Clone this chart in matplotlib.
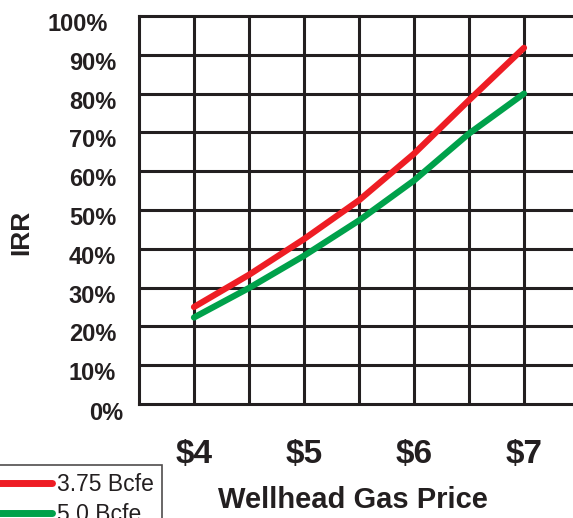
import matplotlib
matplotlib.use("Agg")
from matplotlib import pyplot as plt
from matplotlib.transforms import ScaledTranslation

# IRR at each wellhead gas price, sampled every $0.50
prices = [4.0, 4.5, 5.0, 5.5, 6.0, 6.5, 7.0]
irr_375 = [25.0, 33.3, 42.5, 52.5, 64.5, 78.3, 91.8]
irr_50 = [22.3, 29.9, 38.2, 47.3, 57.6, 69.7, 80.0]
series_labels = ['3.75 Bcfe', '5.0 Bcfe']
price_ticks = [4, 5, 6, 7]
price_labels = ['$4', '$5', '$6', '$7']
irr_ticks = list(range(0, 101, 10))
irr_labels = [str(v) + '%' for v in irr_ticks]

ink = '#231f20'
red = '#ee1d24'
green = '#00a14b'

plt.rcParams['font.family'] = ['Liberation Sans', 'DejaVu Sans']

fig = plt.figure(figsize=(5.73, 5.18), dpi=100)
W, H = 573, 518
# axes runs a little past the right edge of the figure on purpose
ax = fig.add_axes([139 / W, 114 / H, 440 / W, 388 / H])

ax.plot(prices, irr_375, color=red, lw=4.5, solid_capstyle='round', label=series_labels[0], zorder=3)
ax.plot(prices, irr_50, color=green, lw=4.5, solid_capstyle='round', label=series_labels[1], zorder=3)

ax.set_xlim(3.5, 7.5)
ax.set_ylim(0, 100)

# grid every $0.50 and every 10%
for x in [3.5 + 0.5 * i for i in range(1, 8)]:
    ax.axvline(x, color=ink, lw=2.2, zorder=1)
for y in irr_ticks[1:-1]:
    ax.axhline(y, color=ink, lw=2.2, zorder=1)
for s in ax.spines.values():
    s.set_color(ink)
    s.set_linewidth(2.2)

ax.set_xticks(price_ticks)
ax.set_xticklabels(price_labels, fontsize=24, fontweight='bold', color=ink)
ax.set_yticks(irr_ticks)
ax.set_yticklabels(irr_labels, fontsize=17, fontweight='bold', color=ink)
ax.tick_params(axis='both', length=0)
ax.tick_params(axis='x', pad=25)
ax.tick_params(axis='y', pad=16.5)

# labels sit a bit below their grid lines, with a slight stagger at the ends
shifts = {0: (7, -7), 10: (-8, -6)}
for i, lab in enumerate(ax.get_yticklabels()):
    dx, dy = shifts.get(i, (0, -6))
    lab.set_transform(lab.get_transform() + ScaledTranslation(dx / 100, dy / 100, fig.dpi_scale_trans))

fig.text(353 / W, 1 - 500 / H, 'Wellhead Gas Price', fontsize=21, fontweight='bold',
         color=ink, ha='center', va='center')
fig.text(21 / W, 1 - 232 / H, 'IRR', fontsize=19, fontweight='bold', color=ink,
         rotation=90, ha='center', va='center')

leg = fig.legend(loc='upper right', bbox_to_anchor=(162 / W, 1 - 465 / H),
                 fontsize=16.5, frameon=True, fancybox=False, borderaxespad=0,
                 handlelength=2.6, handletextpad=0.22, borderpad=0.35, labelspacing=0.3)
leg.get_frame().set_edgecolor(ink)
leg.get_frame().set_linewidth(1.2)
for line in leg.get_lines():
    line.set_linewidth(5)
for t in leg.get_texts():
    t.set_color(ink)

fig.savefig('out.png', dpi=100)
